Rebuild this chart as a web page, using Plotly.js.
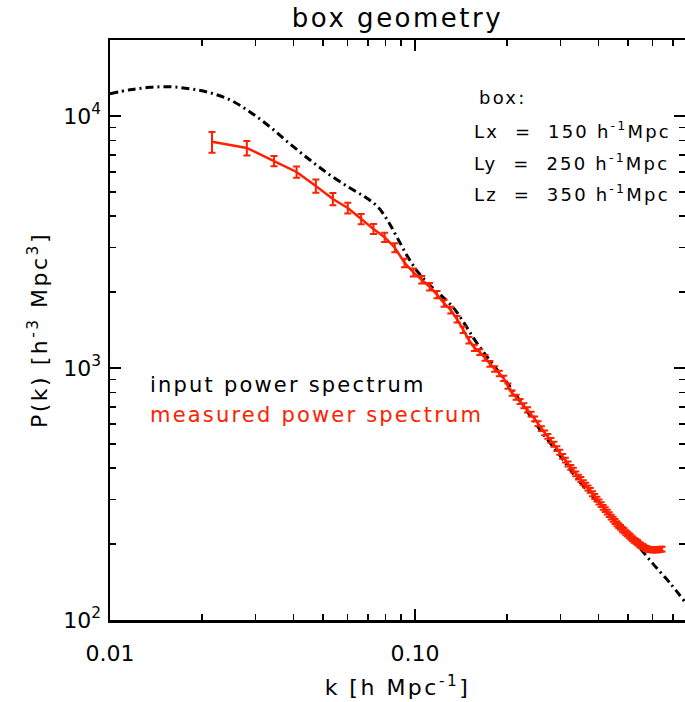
<!DOCTYPE html>
<html><head><meta charset="utf-8">
<script src="https://cdn.plot.ly/plotly-3.0.1.min.js"></script>
<style>
html,body{margin:0;padding:0;background:#fff}
.gtitle{letter-spacing:2.5px}
.xtitle,.ytitle{letter-spacing:2.5px}
.annotation-text{letter-spacing:2.2px}
</style>
</head><body><div id="chart" style="width:685px;height:702px"></div>
<script>
// Input (linear theory) power spectrum
const kInput = [0.0100,0.011628,0.013521,0.015723,0.018289,0.021272,0.024733,0.028764,0.033455,0.038911,
0.045249,0.052628,0.061212,0.068576,0.075601,0.081557,0.08796,0.094855,0.10229,0.11196,
0.12262,0.13322,0.14369,0.15497,0.16711,0.18022,0.19432,0.21603,0.25694,0.29876,
0.33972,0.4134,0.46994,0.53432,0.60303,0.6857,0.76766];
const pInput = [12230,12690,12980,13040,12810,12350,11580,10370,9045,7739,
6683,5826,5172,4764,4347,3824,3243,2750,2398,2128,
1924,1740,1531,1322,1163,1032,917,770,569,449,
364,279,236.5,199,167,140,118];

// Measured power spectrum (red): bin centres, values and error bars (percent)
const kMeas = [0.0216,0.0281,0.0345,0.0409,0.0473,0.0538,0.0602,0.0666,0.0731,0.0795,
0.0859,0.0924,0.0988,0.1052,0.1117,0.1181,0.1245,0.1310,0.1374,0.1438,
0.1503,0.1567,0.1631,0.1696,0.1760,0.1824,0.1889,0.1953,0.2017,0.2082,
0.2146,0.2210,0.2275,0.2339,0.2403,0.2468,0.2532,0.2596,0.2661,0.2725,
0.2789,0.2854,0.2918,0.2982,0.3047,0.3111,0.3175,0.3240,0.3304,0.3368,
0.3433,0.3497,0.3561,0.3626,0.3690,0.3754,0.3819,0.3883,0.3947,0.4012,
0.4076,0.4140,0.4205,0.4269,0.4333,0.4398,0.4462,0.4526,0.4591,0.4655,
0.4719,0.4784,0.4848,0.4912,0.4977,0.5041,0.5105,0.5170,0.5234,0.5298,
0.5363,0.5427,0.5491,0.5556,0.5620,0.5684,0.5749,0.5813,0.5877,0.5942,
0.6006,0.6070,0.6135,0.6199,0.6263,0.6328,0.6392,0.6456];
const pMeas = [7890,7460,6620,5990,5270,4680,4310,3895,3560,3300,
3000,2612,2393,2239,2099,1954,1807,1698,1560,1419,
1288,1202,1156,1096,1038,991,951,910,847,794,
766,736,708,682,656,628,601,575,553,535,
516,498,479,463,446,431,416,403,393,380,
369,361,351,343,334,327,317,309,302,294,
287,280,274,268,262,256,251,246,241,237,
233,229,226,222,219,216,213,210,207,205,
203,200,198,196,195,193,192,191,190.5,190,
190,190,190,190,190,190.5,191,191];
const errMeasPct = [9.5,6.6,4.7,5.2,6.0,5.6,5.0,4.7,4.5,4.3,
4.2,3.9,3.7,3.5,3.4,3.3,3.2,3.1,3.0,3.0,
2.9,2.8,2.7,2.6,2.6,2.5,2.5,2.4,2.4,2.4,
2.3,2.3,2.3,2.3,2.2,2.2,2.2,2.2,2.2,2.2,
2.2,2.2,2.2,2.2,2.2,2.2,2.2,2.2,2.2,2.2,
2.2,2.2,2.2,2.2,2.2,2.2,2.2,2.2,2.2,2.2,
2.2,2.2,2.2,2.2,2.2,2.2,2.2,2.2,2.2,2.2,
2.2,2.2,2.2,2.2,2.2,2.2,2.2,2.2,2.2,2.2,
2.2,2.2,2.2,2.2,2.2,2.2,2.2,2.2,2.2,2.2,
2.2,2.2,2.2,2.2,2.2,2.2,2.2,2.2];

const xTickVals = [0.01, 0.1];
const xTickText = ['0.01', '0.10'];
const xMinorVals = [0.02,0.03,0.04,0.05,0.06,0.07,0.08,0.09,0.2,0.3,0.4,0.5,0.6,0.7];
const yTickVals = [100, 1000, 10000];
const yTickText = ['10<sup>2</sup>', '10<sup>3</sup>', '10<sup>4</sup>'];
const yMinorVals = [200,300,400,500,600,700,800,900,2000,3000,4000,5000,6000,7000,8000,9000,20000];

const legendLabels = ['input power spectrum', 'measured power spectrum'];
const boxLines = ['box:', 'Lx\u00A0\u00A0=\u00A0\u00A0150\u00A0h<sup>-1</sup>Mpc', 'Ly\u00A0\u00A0=\u00A0\u00A0250\u00A0h<sup>-1</sup>Mpc', 'Lz\u00A0\u00A0=\u00A0\u00A0350\u00A0h<sup>-1</sup>Mpc'];

const FONT = 'DejaVu Sans';
const RED = 'rgb(255,32,0)';

const errAbs = pMeas.map((p, i) => p * errMeasPct[i] / 100);

const traces = [
  {x: kInput, y: pInput, mode: 'lines', type: 'scatter',
   line: {color: 'black', width: 3, dash: '8px,4px,2px,4px', shape: 'spline', smoothing: 1},
   hoverinfo: 'skip'},
  {x: kMeas, y: pMeas, mode: 'lines', type: 'scatter',
   line: {color: RED, width: 2.5},
   error_y: {type: 'data', array: errAbs, visible: true, color: RED, thickness: 2, width: 3.5},
   hoverinfo: 'skip'}
];

const annotations = [];
const legendY = [0.405, 0.353];
legendLabels.forEach((t, i) => annotations.push({
  text: t, xref: 'paper', yref: 'paper', x: 0.066, y: legendY[i], xanchor: 'left', yanchor: 'middle',
  showarrow: false, font: {family: FONT, size: 21, color: i === 0 ? 'black' : RED}
}));
const boxY = [0.900, 0.845, 0.790, 0.736];
const boxX = [0.638, 0.630, 0.630, 0.630];
boxLines.forEach((t, i) => annotations.push({
  text: t, xref: 'paper', yref: 'paper', x: boxX[i], y: boxY[i], xanchor: 'left', yanchor: 'middle',
  showarrow: false, font: {family: FONT, size: 18, color: 'black'}
}));

const axisCommon = {
  type: 'log', showline: true, linecolor: 'black', linewidth: 2.5, mirror: 'ticks',
  ticks: 'inside', ticklen: 11, tickwidth: 2, tickcolor: 'black',
  showgrid: false, zeroline: false, automargin: false,
  tickfont: {family: FONT, size: 22, color: 'black'}
};

const layout = {
  width: 685, height: 702,
  margin: {l: 110, r: 0, t: 40, b: 82, pad: 0},
  paper_bgcolor: 'white', plot_bgcolor: 'white',
  showlegend: false,
  font: {family: FONT, color: 'black'},
  title: {text: 'box geometry', font: {family: FONT, size: 26, color: 'black'},
          xref: 'paper', x: 0.5, xanchor: 'center', yref: 'container', y: 0.975, yanchor: 'middle'},
  xaxis: Object.assign({}, axisCommon, {
    range: [-2, -0.1148], tickmode: 'array', tickvals: xTickVals, ticktext: xTickText,
    ticklabelstandoff: 12,
    minor: {tickmode: 'array', tickvals: xMinorVals, ticks: 'inside', ticklen: 6, tickwidth: 1.5, tickcolor: 'black', showgrid: false},
    title: {text: 'k [h Mpc<sup>-1</sup>]', font: {family: FONT, size: 22, color: 'black'}, standoff: 15}
  }),
  yaxis: Object.assign({}, axisCommon, {
    range: [2, 4.301], tickmode: 'array', tickvals: yTickVals, ticktext: yTickText,
    ticklabelstandoff: 2,
    minor: {tickmode: 'array', tickvals: yMinorVals, ticks: 'inside', ticklen: 6, tickwidth: 1.5, tickcolor: 'black', showgrid: false},
    title: {text: 'P(k) [h<sup>-3</sup> Mpc<sup>3</sup>]', font: {family: FONT, size: 22, color: 'black'}, standoff: 10}
  }),
  annotations: annotations
};

Plotly.newPlot('chart', traces, layout, {displayModeBar: false, staticPlot: true});
</script>
</body></html>
